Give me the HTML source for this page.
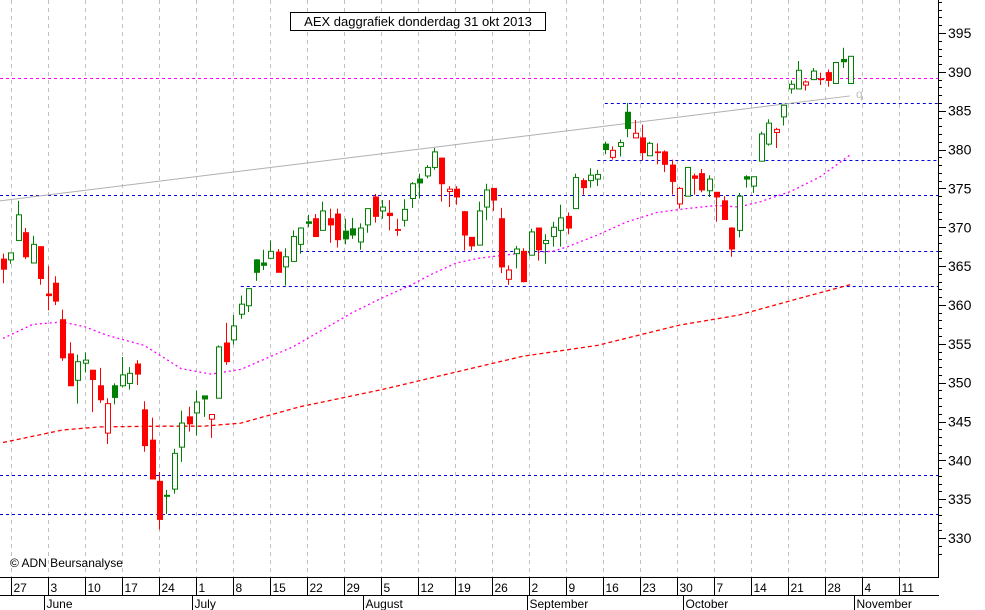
<!DOCTYPE html>
<html><head><meta charset="utf-8"><style>
body{margin:0;background:#fff;}
svg{display:block;font-family:"Liberation Sans",sans-serif;}
</style></head><body>
<svg id="chart" width="985" height="610" viewBox="0 0 985 610" xmlns="http://www.w3.org/2000/svg">
<rect x="0" y="0" width="985" height="610" fill="#fff"/>
<g id="grid"></g>
<g id="hlines"></g>
<g id="mas"></g>
<g id="candles"></g>
<g id="axes"></g>
<rect x="290.5" y="12.5" width="255" height="18" fill="#fff" stroke="#000"/>
<text x="418" y="26" font-size="13" text-anchor="middle">AEX daggrafiek donderdag 31 okt 2013</text>
<text x="10" y="567" font-size="12">© ADN Beursanalyse</text>
<text x="856" y="98" font-size="12" fill="#c0c0c0">q</text>
</svg>
<script>
const opens=[365.9,365.8,368.3,369.3,365.4,367.5,361.4,362.8,358.1,353.7,350.3,352.5,351.6,349.6,343.5,349.6,349.6,349.9,352.4,346.5,342.6,337.3,335.4,336.3,341.7,345.6,346.1,348.3,345.3,348.0,355.1,355.5,358.8,359.9,365.8,365.4,366.0,366.8,364.9,365.6,367.8,370.7,371.1,369.6,371.1,371.7,369.5,369.8,368.1,370.3,373.9,372.1,371.8,369.7,370.9,373.7,376.2,376.6,377.7,378.9,374.6,374.9,372.0,368.7,367.7,372.6,375.0,371.1,363.3,366.6,366.9,366.4,369.9,367.9,368.8,369.6,371.4,372.4,376.0,376.0,376.2,380.7,379.0,380.4,384.8,381.5,381.5,379.2,379.7,379.7,378.0,373.0,374.0,376.6,376.9,374.7,374.5,373.4,369.9,369.6,376.5,375.3,378.5,380.7,382.2,384.2,387.8,387.8,388.3,389.0,389.1,389.9,388.5,391.6,388.5];
const highs=[366.6,366.7,373.4,369.9,368.9,367.5,365.0,363.7,359.4,355.2,353.6,353.9,351.6,351.9,348.0,349.9,353.3,352.0,352.9,347.6,345.5,338.5,336.2,341.5,346.4,346.9,349.0,348.3,345.9,354.8,357.7,358.7,361.2,362.1,365.9,367.1,368.3,367.2,367.3,369.6,370.0,371.6,371.7,373.3,372.4,372.4,371.1,371.2,370.5,372.4,374.3,373.5,373.5,371.1,373.6,375.8,376.9,378.0,380.2,378.9,375.3,375.3,372.1,368.7,373.3,375.6,375.0,372.5,365.1,367.6,367.3,369.8,369.9,369.1,370.7,372.9,371.9,376.9,376.3,377.6,377.4,381.0,380.4,381.3,386.0,383.8,383.2,381.0,380.8,379.9,378.7,375.2,377.7,376.9,377.5,376.7,374.5,374.0,370.0,374.4,376.7,376.5,382.3,383.9,382.8,385.7,388.9,391.4,388.9,390.5,389.9,390.3,391.3,393.1,392.0];
const lows=[362.8,365.3,368.3,365.9,365.4,362.6,359.3,360.0,352.8,349.6,347.3,351.3,346.2,347.4,342.1,347.2,349.4,349.1,349.7,341.1,337.6,331.1,333.1,335.7,339.8,343.7,343.2,345.6,342.9,348.0,352.3,354.9,358.2,359.1,363.1,364.5,366.0,364.2,362.5,365.6,366.6,370.0,368.8,369.6,368.0,367.4,367.8,368.5,367.1,369.3,370.6,371.1,369.6,368.9,370.1,372.5,373.7,376.3,377.4,373.3,372.6,372.9,367.0,367.0,367.7,370.9,372.1,364.1,362.6,364.7,362.9,366.4,365.7,365.3,367.5,367.5,369.1,372.4,374.2,375.1,375.3,379.4,378.7,379.1,381.6,381.5,378.6,379.2,378.1,377.1,374.2,372.4,374.0,374.2,374.5,373.9,370.7,371.0,366.2,368.7,375.1,374.4,378.5,380.5,380.2,383.1,387.2,387.8,387.6,389.0,388.3,388.1,388.5,390.5,388.5];
const closes=[364.6,366.7,371.6,366.2,367.8,363.4,361.2,360.5,353.2,349.6,352.7,352.9,350.4,347.8,347.3,348.1,351.0,351.2,351.1,341.9,337.6,332.4,335.5,340.9,344.8,344.7,347.5,347.9,345.9,354.6,352.7,357.3,360.1,362.1,364.2,365.1,366.9,364.2,366.2,368.8,369.9,370.5,368.8,372.1,370.3,368.4,368.5,369.0,369.9,372.4,371.4,372.6,371.5,369.6,372.3,375.6,375.7,377.7,379.7,375.6,374.9,373.9,369.0,367.6,372.1,374.8,373.5,364.9,364.5,367.2,363.0,369.4,367.1,368.3,370.0,371.2,369.9,376.4,375.1,376.7,376.8,380.0,379.9,380.9,382.7,382.1,379.6,380.8,379.6,378.1,375.9,375.0,377.7,376.3,374.8,376.2,373.9,371.0,367.2,374.0,376.2,376.5,382.0,383.4,382.6,385.7,388.4,390.2,388.7,390.1,389.0,388.9,391.2,391.3,392.0];
const shortMaIdx=[0,4,8,11,14,19,21,24,28,32,39,43,47,51,55,58,61,64,70,74,76,80,84,88,92,96,99,102,106,110,114];
const shortMaVals=[355.7,357.5,357.8,357.2,356.1,354.8,353.6,351.8,351.1,351.7,354.6,356.8,359.0,360.9,362.6,364.1,365.4,366.0,366.7,366.9,367.5,369.0,370.7,371.9,372.4,372.8,372.6,373.3,374.6,376.5,379.3];
const longMaIdx=[0,4,8,13,21,27,32,40,51,62,70,80,91,99,107,114];
const longMaVals=[342.3,343.1,343.9,344.3,344.4,344.4,344.8,346.9,349.1,351.6,353.4,354.8,357.4,358.7,360.8,362.6];
const levelVals=[389.2,386.0,378.7,374.2,366.9,362.5,338.1,333.1];
const levelStartIdx=[-1,81,80,-1,40,32,-1,-1];
const trendIdx=[-0.4,114];
const trendVals=[373.4,386.9];
const priceTicks=[395,390,385,380,375,370,365,360,355,350,345,340,335,330];
const weekLabels=["27","3","10","17","24","1","8","15","22","29","5","12","19","26","2","9","16","23","30","7","14","21","28","4","11"];
const monthLabels=["June","July","August","September","October","November"];
const monthStartIdx=[6,26,49,71,92,115];

const NS="http://www.w3.org/2000/svg";
const PLOT_R=938, AXIS_Y=577;
function xOf(i){return 3+7.43*i;}
function yOf(v){return 33+(395-v)*7.77;}
function weekX(k){return 11+37.0*k;}
function mk(tag,attrs,parent){const e=document.createElementNS(NS,tag);for(const k in attrs)e.setAttribute(k,attrs[k]);parent.appendChild(e);return e;}
const grid=document.getElementById('grid'),hl=document.getElementById('hlines'),mas=document.getElementById('mas'),cg=document.getElementById('candles'),ax=document.getElementById('axes');

// vertical gridlines
weekLabels.forEach((l,k)=>{const x=Math.round(weekX(k))+0.5;
 const g=mk('line',{x1:x,x2:x,y1:0,y2:AXIS_Y,stroke:'#c0c0c0','stroke-dasharray':'4,4'},grid);
 
 });

// horizontal levels
levelVals.forEach((v,j)=>{const y=Math.round(yOf(v))+0.5;const x1=levelStartIdx[j]<0?0:xOf(levelStartIdx[j]);
 const l=mk('line',{x1:x1,x2:PLOT_R,y1:y,y2:y,stroke:j===0?'#ff00ff':'#0000dd','stroke-dasharray':'3,3'},hl);
 
 });

// trendline
const tl=mk('line',{x1:xOf(trendIdx[0]),y1:yOf(trendVals[0]),x2:xOf(trendIdx[1]),y2:yOf(trendVals[1]),stroke:'#b0b0b0','stroke-width':1},hl);



// moving averages
function pts(idx,vals){return idx.map((i,j)=>xOf(i).toFixed(1)+','+yOf(vals[j]).toFixed(1)).join(' ');}
const m1=mk('polyline',{points:pts(shortMaIdx,shortMaVals),fill:'none',stroke:'#ff00ff','stroke-width':1.3,'stroke-dasharray':'2,3'},mas);


const m2=mk('polyline',{points:pts(longMaIdx,longMaVals),fill:'none',stroke:'#ff0000','stroke-width':1.3,'stroke-dasharray':'4,3'},mas);



// candles
closes.forEach((c,i)=>{const o=opens[i],h=highs[i],lo=lows[i];
 const prev=i>0?closes[i-1]:o;const up=c>=prev;const col=up?'#008000':'#ff0000';
 const x=Math.round(xOf(i));const g=mk('g',{},cg);
 
 
 mk('line',{x1:x+0.5,x2:x+0.5,y1:yOf(h),y2:yOf(lo),stroke:col,'stroke-width':1},g);
 const top=yOf(Math.max(o,c)),bot=yOf(Math.min(o,c));const hollow=c>o;
 if(hollow){mk('rect',{x:x-1.5,y:top,width:5,height:Math.max(bot-top,1),fill:'#fff',stroke:col,'stroke-width':1},g);}
 else{mk('rect',{x:x-2,y:top-0.5,width:6,height:Math.max(bot-top+1,1.5),fill:col},g);}
});

// axes
const ra=mk('line',{x1:PLOT_R+0.5,x2:PLOT_R+0.5,y1:0,y2:AXIS_Y,stroke:'#000'},ax);


for(let v=328;v<=399;v++){const y=Math.round(yOf(v))+0.5;if(y<0||y>AXIS_Y)continue;
 mk('line',{x1:PLOT_R,x2:PLOT_R+(v%5===0?8:4),y1:y,y2:y,stroke:'#000'},ax);}
priceTicks.forEach(v=>{const t=mk('text',{x:948,y:yOf(v)+5,'font-size':14},ax);t.textContent=v;
 
 });
const ba=mk('line',{x1:0,x2:PLOT_R+1,y1:AXIS_Y+0.5,y2:AXIS_Y+0.5,stroke:'#000'},ax);


mk('line',{x1:0,x2:PLOT_R+1,y1:595.5,y2:595.5,stroke:'#000'},ax);
weekLabels.forEach((l,k)=>{const x=Math.round(weekX(k))+0.5;
 mk('line',{x1:x,x2:x,y1:AXIS_Y,y2:595,stroke:'#000'},ax);
 const t=mk('text',{x:x+2,y:592,'font-size':12},ax);t.textContent=l;
 
 });
monthLabels.forEach((m,j)=>{const x=Math.round(xOf(monthStartIdx[j])-3.7)+0.5;
 mk('line',{x1:x,x2:x,y1:595,y2:610,stroke:'#000'},ax);
 const t=mk('text',{x:x+2,y:608,'font-size':12},ax);t.textContent=m;
 
 });
</script>
</body></html>
